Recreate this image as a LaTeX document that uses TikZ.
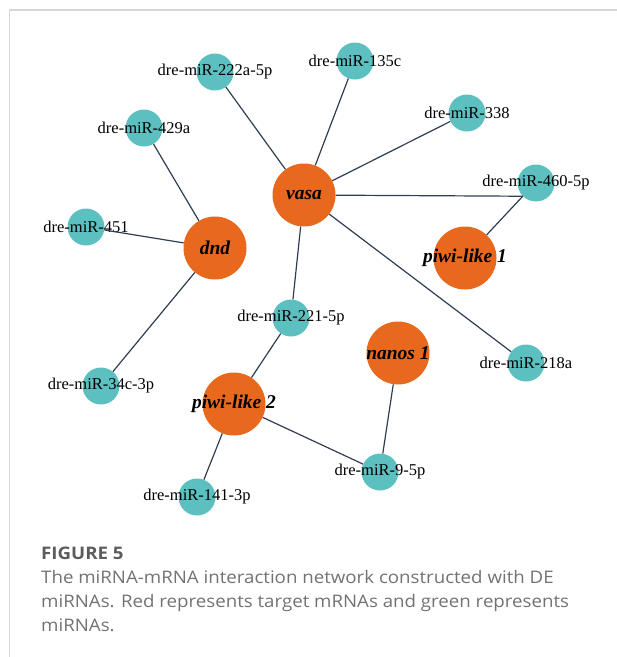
\documentclass[tikz,border=0pt]{standalone}
\usepackage{fontspec}
\setmainfont{Liberation Serif}
\newfontfamily\capfont[FakeStretch=1.08]{Open Sans}
\usepackage{xcolor}
\usepackage{tikz}
\definecolor{genecol}{HTML}{E8691D}
\definecolor{mircol}{HTML}{5DC0C0}
\definecolor{edgecol}{HTML}{2F3D52}
\definecolor{capgray}{HTML}{727272}
\definecolor{headgray}{HTML}{5C5C5C}
\definecolor{framegray}{HTML}{D6D6D6}
\newcommand{\mir}[1]{dre-miR-#1}

\begin{document}
\begin{tikzpicture}[x=1pt,y=-1pt,
    gene/.style={circle,fill=genecol,minimum size=63pt,inner sep=0pt},
    genetag/.style={font=\fontsize{19.5}{19.5}\selectfont\bfseries\itshape,inner sep=0pt},
    mirna/.style={circle,fill=mircol,minimum size=37pt,inner sep=0pt},
    tag/.style={font=\fontsize{16.5}{16.5}\selectfont,inner sep=0pt},
    link/.style={draw=edgecol,line width=1.2pt},
    captext/.style={anchor=base west,inner sep=0pt,text=capgray,font=\capfont\fontsize{17.3}{17.3}\selectfont}]
\useasboundingbox (0,0) rectangle (617,657);
\draw[framegray,line width=1.5pt] (9.5,657) |- (617,10);
\node[gene,label={[genetag]center:vasa}] (vasa) at (304,195) {};
\node[gene,label={[genetag]center:dnd}] (dnd) at (215,248) {};
\node[gene,label={[genetag]center:piwi-like 1}] (piwiA) at (465,258) {};
\node[gene,label={[genetag]center:nanos 1}] (nanos) at (398,353) {};
\node[gene,label={[genetag]center:piwi-like 2}] (piwiB) at (234,404) {};
\node[mirna,label={[tag]center:\mir{222a-5p}}] (m222) at (215,72) {};
\node[mirna,label={[tag]center:\mir{135c}}] (m135) at (355,61) {};
\node[mirna,label={[tag]center:\mir{338}}] (m338) at (467,113) {};
\node[mirna,label={[tag]center:\mir{429a}}] (m429) at (144,128) {};
\node[mirna,label={[tag]center:\mir{460-5p}}] (m460) at (536,183) {};
\node[mirna,label={[tag]center:\mir{451}}] (m451) at (86,227) {};
\node[mirna,label={[tag]center:\mir{221-5p}}] (m221) at (291,318) {};
\node[mirna,label={[tag]center:\mir{218a}}] (m218) at (526,363) {};
\node[mirna,label={[tag]center:\mir{34c-3p}}] (m34) at (101,386) {};
\node[mirna,label={[tag]center:\mir{9-5p}}] (m9) at (380,472) {};
\node[mirna,label={[tag]center:\mir{141-3p}}] (m141) at (197,497) {};
\foreach \t in {m222,m135,m338,m221,m218}
    \draw[link] (vasa) -- (\t);
\foreach \t in {m429,m451,m34}
    \draw[link] (dnd) -- (\t);
\foreach \t in {m221,m141,m9}
    \draw[link] (piwiB) -- (\t);
\draw[link] (vasa) -- (m460.south west);
\draw[link] (piwiA) -- (m460.south west);
\draw[link] (nanos) -- (m9);
\node[captext,text=headgray,font=\capfont\bfseries\fontsize{17.3}{17.3}\selectfont] (fig) at (41,559) {FIGURE 5};
\node[captext] (capA) at (41,583) {The miRNA-mRNA interaction network constructed with DE};
\node[captext] (capB) at (41,607) {miRNAs. Red represents target mRNAs and green represents};
\node[captext] (capC) at (41,631) {miRNAs.};
\end{tikzpicture}
\end{document}
